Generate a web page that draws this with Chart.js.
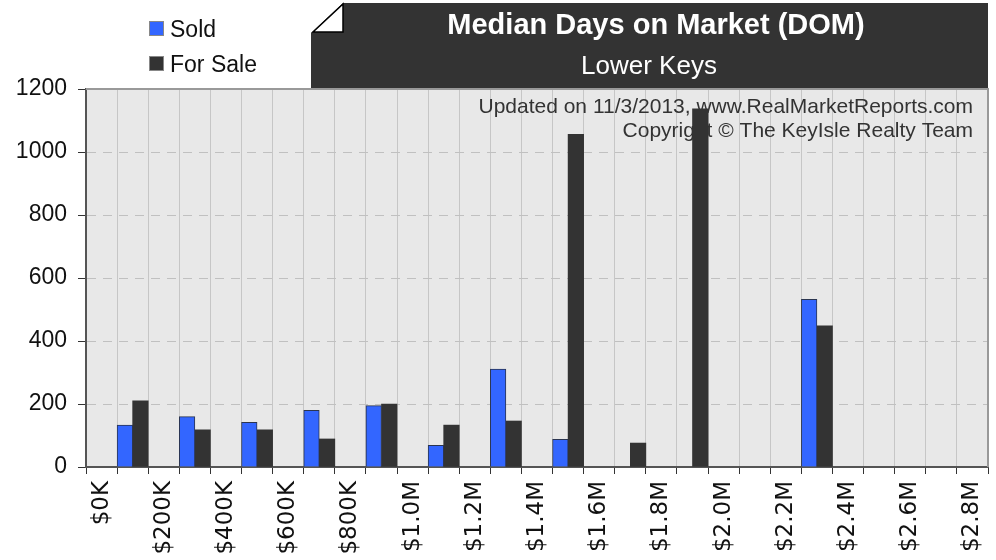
<!DOCTYPE html>
<html>
<head>
<meta charset="utf-8">
<title>Median Days on Market (DOM)</title>
<script src="https://cdn.jsdelivr.net/npm/chart.js@4"></script>
<style>
  html, body { margin: 0; padding: 0; background: #ffffff; }
  #wrap { width: 996px; height: 560px; }
</style>
</head>
<body>
<div id="wrap"><canvas id="dom" width="996" height="560"></canvas></div>
<script>
// étiquettes de prix (une sur deux des colonnes)
var priceLabels = ['$0K', '$200K', '$400K', '$600K', '$800K', '$1.0M', '$1.2M', '$1.4M',
                   '$1.6M', '$1.8M', '$2.0M', '$2.2M', '$2.4M', '$2.6M', '$2.8M'];
// valeurs par tranche (entre deux étiquettes), null = pas de barre
var soldDom    = [133, 160, 142, 180, 195, 69, 311, 88, null, null, null, 532, null, null];
var forSaleDom = [210, 118, 118, 89, 200, 133, 146, 1056, 76, 1137, null, 448, null, null];
var yTicks = [0, 200, 400, 600, 800, 1000, 1200];

var titleText = 'Median Days on Market (DOM)';
var subtitleText = 'Lower Keys';
var noteLines = ['Updated on 11/3/2013, www.RealMarketReports.com', 'Copyright \u00a9 The KeyIsle Realty Team'];

// 29 colonnes : étiquettes sur les colonnes paires, barres sur les impaires
var labels = [], soldData = [], forSaleData = [];
for (var i = 0; i < priceLabels.length * 2 - 1; i++) {
    if (i % 2 === 0) {
        labels.push(priceLabels[i / 2]);
        soldData.push(null);
        forSaleData.push(null);
    } else {
        labels.push('');
        soldData.push(soldDom[(i - 1) / 2]);
        forSaleData.push(forSaleDom[(i - 1) / 2]);
    }
}

var SANS = '"Liberation Sans", Arial, Helvetica, sans-serif';

// fond gris, cadre, cartouche du titre, légende et mentions
var decor = {
    id: 'decor',
    beforeDraw: function(chart) {
        var c = chart.ctx, a = chart.chartArea;
        c.save();
        c.fillStyle = '#e8e8e8';
        c.fillRect(a.left, a.top, a.right - a.left, a.bottom - a.top);

        // cartouche sombre avec coin replié
        c.fillStyle = '#333333';
        c.beginPath();
        c.moveTo(311, 33);
        c.lineTo(343, 3);
        c.lineTo(988, 3);
        c.lineTo(988, a.top);
        c.lineTo(311, a.top);
        c.closePath();
        c.fill();
        c.fillStyle = '#ffffff';
        c.strokeStyle = '#000000';
        c.lineWidth = 1.5;
        c.beginPath();
        c.moveTo(313, 32);
        c.lineTo(343, 4);
        c.lineTo(343, 32);
        c.closePath();
        c.fill();
        c.stroke();

        c.fillStyle = '#ffffff';
        c.textAlign = 'center';
        c.textBaseline = 'alphabetic';
        c.font = 'bold 29px ' + SANS;
        c.fillText(titleText, 656, 34);
        c.font = '26px ' + SANS;
        c.fillText(subtitleText, 649, 74);

        // légende
        var items = chart.data.datasets;
        c.textAlign = 'left';
        c.font = '23px ' + SANS;
        for (var k = 0; k < items.length; k++) {
            var y = 21 + k * 35;
            c.fillStyle = items[k].backgroundColor;
            c.fillRect(149, y, 15, 15);
            c.strokeStyle = '#888888';
            c.lineWidth = 1;
            c.strokeRect(149.5, y + 0.5, 14, 14);
            c.fillStyle = '#111111';
            c.fillText(items[k].label, 170, y + 16);
        }
        c.restore();
    },
    beforeDatasetsDraw: function(chart) {
        var c = chart.ctx, a = chart.chartArea;
        c.save();
        // cadre haut et droit
        c.strokeStyle = '#999999';
        c.lineWidth = 2;
        c.beginPath();
        c.moveTo(a.left, a.top);
        c.lineTo(a.right, a.top);
        c.lineTo(a.right, a.bottom);
        c.stroke();
        // mentions (derrière les barres)
        c.fillStyle = '#333333';
        c.font = '21px ' + SANS;
        c.textAlign = 'right';
        c.fillText(noteLines[0], 973, 113);
        c.fillText(noteLines[1], 973, 137);
        c.restore();
    }
};

var ctx = document.getElementById('dom');
var domChart = new Chart(ctx, {
    type: 'bar',
    data: {
        labels: labels,
        datasets: [{
            label: 'Sold',
            data: soldData,
            backgroundColor: '#3366ff',
            borderColor: '#2b3550',
            borderWidth: 1,
            categoryPercentage: 1,
            barPercentage: 1
        }, {
            label: 'For Sale',
            data: forSaleData,
            backgroundColor: '#333333',
            borderColor: '#333333',
            borderWidth: 0,
            categoryPercentage: 1,
            barPercentage: 1
        }]
    },
    options: {
        responsive: false,
        animation: false,
        layout: { padding: { top: 89, right: 8, left: 0, bottom: 0 } },
        plugins: {
            legend: { display: false },
            tooltip: { enabled: false }
        },
        scales: {
            x: {
                offset: true,
                grid: {
                    offset: true,
                    color: '#c6c6c6',
                    lineWidth: 1,
                    tickColor: '#333333',
                    tickLength: 7
                },
                border: { color: '#555555', width: 2 },
                ticks: {
                    autoSkip: false,
                    minRotation: 90,
                    maxRotation: 90,
                    padding: 7,
                    color: '#111111',
                    font: { family: '"DejaVu Sans", sans-serif', size: 23 }
                },
                afterFit: function(scale) {
                    scale.height = 93;
                    scale.paddingLeft = 0;
                    scale.paddingRight = 0;
                }
            },
            y: {
                min: 0,
                max: 1200,
                afterBuildTicks: function(scale) {
                    scale.ticks = yTicks.map(function(v) { return { value: v }; });
                },
                grid: {
                    color: function(context) {
                        var v = context.tick ? context.tick.value : null;
                        return (v === 0 || v === 1200) ? 'rgba(0,0,0,0)' : '#c0c0c0';
                    },
                    lineWidth: 1,
                    tickColor: '#333333',
                    tickLength: 8,
                    tickBorderDash: []
                },
                border: { color: '#555555', width: 2, dash: [9, 7] },
                ticks: {
                    padding: 11,
                    color: '#111111',
                    font: { family: SANS, size: 23 },
                    callback: function(value) { return String(value); }
                },
                afterFit: function(scale) {
                    scale.width = 86;
                }
            }
        }
    },
    plugins: [decor]
});
</script>
</body>
</html>
